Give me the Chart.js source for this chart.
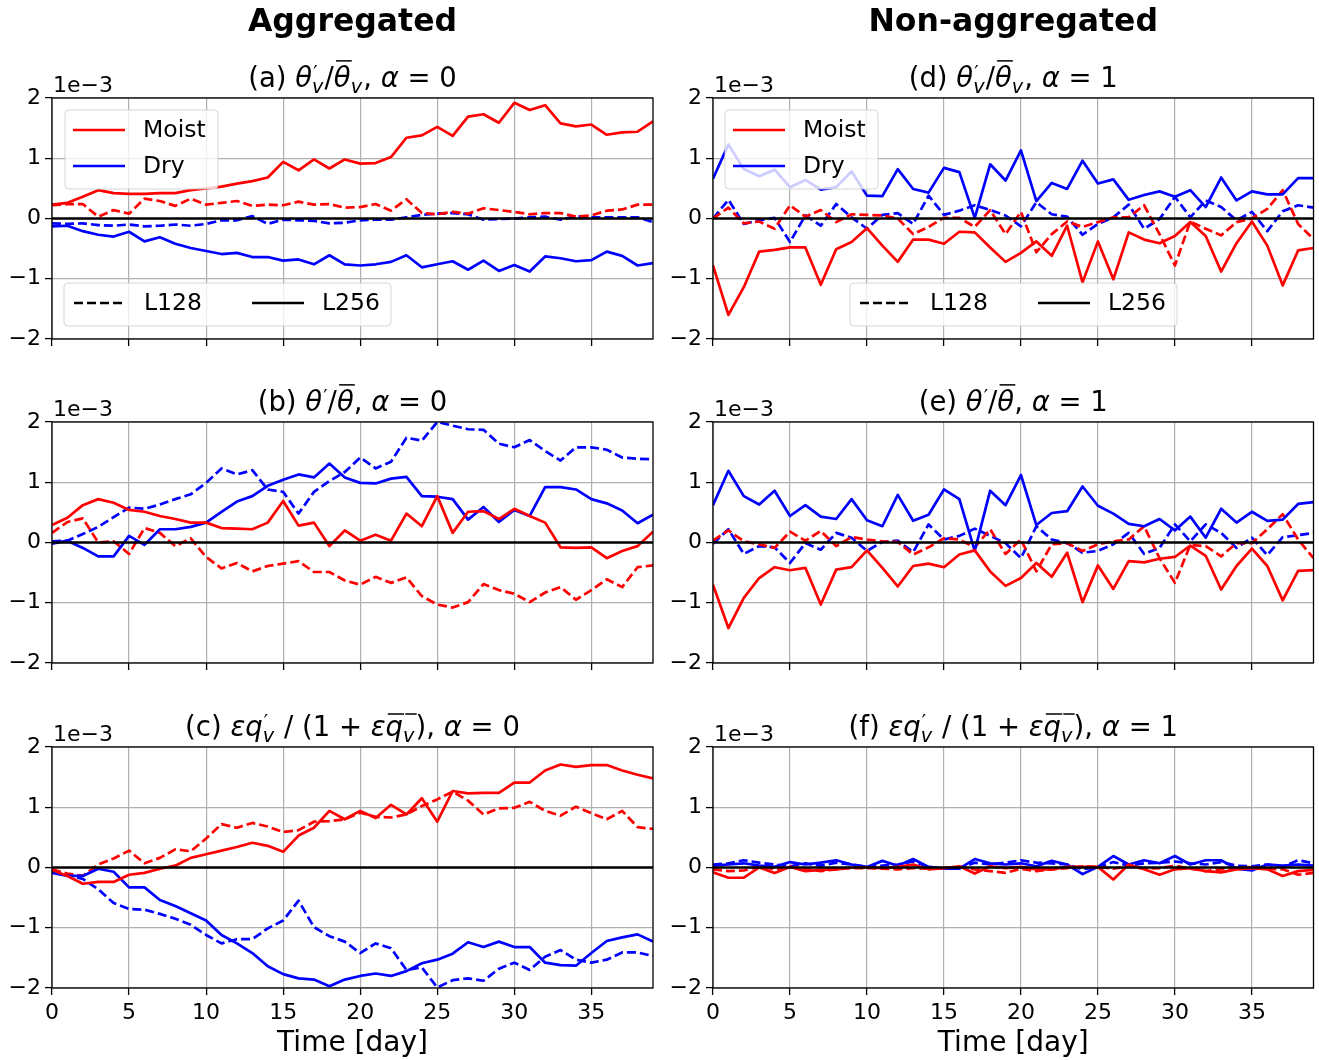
<!DOCTYPE html>
<html>
<head>
<meta charset="utf-8">
<script src="https://cdn.jsdelivr.net/npm/chart.js@4.4.1/dist/chart.umd.min.js"></script>
<style>
  html, body { margin: 0; padding: 0; background: #fff; }
  #fig { position: relative; width: 1319px; height: 1060px; overflow: hidden; }
  #fig canvas { position: absolute; }
</style>
</head>
<body>
<div id="fig"></div>
<script>
// Time axis (days) and tick values
const days = [0,1,2,3,4,5,6,7,8,9,10,11,12,13,14,15,16,17,18,19,20,21,22,23,24,25,26,27,28,29,30,31,32,33,34,35,36,37,38,39];
const xTicks = [0, 5, 10, 15, 20, 25, 30, 35];
const yTicks = [-2, -1, 0, 1, 2];
const zeroLevel = 0;

// All series in units of 1e-3
// (a) theta_v'/theta_v, aggregated
const aMoist256 = [0.23,0.26,0.36,0.47,0.42,0.41,0.41,0.42,0.42,0.47,0.50,0.53,0.58,0.62,0.68,0.94,0.80,0.98,0.83,0.98,0.91,0.92,1.02,1.34,1.38,1.52,1.37,1.69,1.73,1.59,1.92,1.80,1.88,1.58,1.53,1.56,1.39,1.43,1.44,1.61];
const aMoist128 = [0.22,0.24,0.24,0.03,0.14,0.08,0.33,0.29,0.21,0.33,0.23,0.26,0.29,0.21,0.23,0.22,0.28,0.23,0.24,0.18,0.19,0.24,0.13,0.32,0.09,0.07,0.11,0.08,0.17,0.14,0.11,0.07,0.09,0.09,0.03,0.05,0.13,0.15,0.23,0.23];
const aDry256 = [-0.13,-0.12,-0.21,-0.27,-0.30,-0.22,-0.38,-0.31,-0.42,-0.49,-0.54,-0.59,-0.57,-0.64,-0.64,-0.70,-0.68,-0.76,-0.61,-0.76,-0.78,-0.76,-0.72,-0.61,-0.81,-0.76,-0.71,-0.85,-0.70,-0.87,-0.77,-0.88,-0.63,-0.66,-0.71,-0.69,-0.55,-0.62,-0.78,-0.74];
const aDry128 = [-0.08,-0.09,-0.08,-0.11,-0.12,-0.10,-0.13,-0.12,-0.10,-0.12,-0.09,-0.03,-0.03,0.04,-0.09,-0.02,-0.03,-0.04,-0.08,-0.07,-0.03,-0.02,-0.02,0.02,0.06,0.08,0.09,0.07,-0.02,-0.01,0.00,0.02,0.03,-0.02,0.04,0.02,0.02,0.02,0.02,-0.06];

// (b) theta'/theta, aggregated
const bMoist256 = [0.29,0.41,0.62,0.72,0.66,0.54,0.51,0.44,0.39,0.33,0.33,0.24,0.23,0.22,0.33,0.69,0.28,0.33,-0.06,0.20,0.03,0.13,0.03,0.48,0.27,0.77,0.16,0.51,0.52,0.39,0.56,0.44,0.33,-0.08,-0.09,-0.08,-0.26,-0.14,-0.06,0.18];
const bMoist128 = [0.16,0.34,0.40,0.00,0.02,-0.19,0.24,0.16,-0.06,0.07,-0.24,-0.43,-0.34,-0.48,-0.39,-0.35,-0.31,-0.49,-0.49,-0.63,-0.70,-0.57,-0.67,-0.58,-0.89,-1.03,-1.08,-0.99,-0.69,-0.79,-0.85,-0.99,-0.83,-0.74,-0.95,-0.79,-0.61,-0.74,-0.41,-0.38];
const bDry256 = [-0.02,0.03,-0.09,-0.23,-0.23,0.11,-0.04,0.22,0.22,0.26,0.33,0.51,0.68,0.77,0.94,1.04,1.13,1.08,1.31,1.08,0.99,0.98,1.06,1.09,0.77,0.76,0.72,0.38,0.59,0.34,0.54,0.44,0.92,0.92,0.88,0.72,0.65,0.53,0.32,0.46];
const bDry128 = [0.02,0.03,0.14,0.26,0.42,0.58,0.56,0.63,0.72,0.80,0.99,1.23,1.13,1.20,0.88,0.84,0.48,0.84,1.02,1.17,1.41,1.23,1.34,1.74,1.69,2.00,1.94,1.88,1.87,1.64,1.58,1.70,1.52,1.36,1.58,1.58,1.54,1.41,1.39,1.38];

// (c) eps*qv'/(1+eps*qv), aggregated
const cMoist256 = [-0.04,-0.14,-0.27,-0.24,-0.24,-0.12,-0.09,-0.02,0.03,0.16,0.22,0.28,0.34,0.41,0.36,0.26,0.53,0.66,0.94,0.80,0.94,0.82,1.04,0.88,1.15,0.76,1.27,1.23,1.24,1.24,1.41,1.41,1.61,1.71,1.67,1.70,1.70,1.61,1.54,1.48];
const cMoist128 = [-0.03,-0.10,-0.14,0.05,0.15,0.28,0.07,0.16,0.30,0.27,0.48,0.72,0.66,0.74,0.68,0.59,0.62,0.76,0.77,0.80,0.91,0.84,0.83,0.88,1.02,1.13,1.26,1.11,0.88,0.98,0.99,1.09,0.94,0.86,1.01,0.90,0.80,0.94,0.67,0.64];
const cDry256 = [-0.09,-0.14,-0.14,-0.02,-0.07,-0.33,-0.33,-0.54,-0.64,-0.76,-0.88,-1.12,-1.26,-1.42,-1.64,-1.77,-1.84,-1.86,-1.97,-1.86,-1.80,-1.76,-1.80,-1.72,-1.59,-1.53,-1.43,-1.24,-1.32,-1.23,-1.32,-1.32,-1.58,-1.62,-1.63,-1.42,-1.22,-1.16,-1.11,-1.23];
const cDry128 = [-0.05,-0.12,-0.19,-0.36,-0.59,-0.69,-0.70,-0.77,-0.85,-0.95,-1.12,-1.26,-1.19,-1.19,-1.01,-0.88,-0.55,-0.99,-1.14,-1.23,-1.42,-1.26,-1.34,-1.70,-1.66,-1.99,-1.87,-1.84,-1.88,-1.68,-1.58,-1.70,-1.48,-1.37,-1.53,-1.58,-1.53,-1.41,-1.41,-1.47];

// (d) theta_v'/theta_v, non-aggregated
const dMoist256 = [-0.78,-1.60,-1.14,-0.55,-0.52,-0.48,-0.48,-1.10,-0.51,-0.39,-0.16,-0.45,-0.72,-0.35,-0.35,-0.42,-0.22,-0.23,-0.48,-0.72,-0.57,-0.38,-0.62,-0.12,-1.06,-0.38,-1.01,-0.23,-0.35,-0.41,-0.29,-0.06,-0.29,-0.88,-0.41,-0.05,-0.45,-1.11,-0.53,-0.49];
const dMoist128 = [0.00,0.18,-0.08,-0.05,-0.17,0.22,0.03,0.14,-0.06,0.07,0.06,0.05,0.00,-0.26,-0.14,0.01,0.01,-0.14,0.14,-0.26,0.11,-0.56,-0.26,-0.05,-0.14,-0.06,0.02,0.02,0.22,-0.26,-0.78,-0.05,-0.17,-0.28,-0.06,0.00,0.16,0.47,-0.09,-0.34];
const dDry256 = [0.66,1.23,0.82,0.70,0.81,0.52,0.64,0.48,0.52,0.78,0.38,0.37,0.82,0.49,0.43,0.84,0.77,0.01,0.90,0.63,1.13,0.29,0.59,0.49,0.96,0.58,0.65,0.31,0.39,0.45,0.36,0.47,0.19,0.68,0.30,0.45,0.40,0.40,0.67,0.67];
const dDry128 = [0.00,0.31,-0.09,-0.03,0.01,-0.39,0.05,-0.12,0.24,0.02,-0.17,0.06,0.09,-0.09,0.38,0.06,0.13,0.22,0.14,0.05,-0.13,0.27,0.07,0.03,-0.27,-0.09,0.02,0.23,-0.17,-0.01,0.36,0.02,0.30,0.19,-0.03,0.11,-0.21,0.12,0.22,0.18];

// (e) theta'/theta, non-aggregated
const eMoist256 = [-0.70,-1.42,-0.92,-0.59,-0.41,-0.46,-0.42,-1.03,-0.45,-0.41,-0.13,-0.42,-0.73,-0.39,-0.35,-0.41,-0.20,-0.13,-0.48,-0.72,-0.59,-0.34,-0.57,-0.17,-0.99,-0.38,-0.77,-0.31,-0.33,-0.27,-0.24,-0.05,-0.22,-0.78,-0.39,-0.10,-0.39,-0.96,-0.47,-0.46];
const eMoist128 = [0.03,0.20,0.02,-0.03,-0.09,0.18,0.03,0.19,-0.06,0.09,0.05,0.02,0.01,-0.20,-0.08,0.07,0.05,-0.08,0.22,-0.19,0.05,-0.48,-0.03,-0.01,-0.14,-0.03,0.02,0.05,0.27,-0.26,-0.67,-0.04,-0.06,-0.23,-0.01,-0.01,0.22,0.47,0.05,-0.26];
const eDry256 = [0.62,1.19,0.77,0.63,0.86,0.44,0.62,0.43,0.39,0.72,0.37,0.27,0.79,0.36,0.46,0.88,0.72,-0.14,0.86,0.62,1.12,0.29,0.49,0.52,0.93,0.61,0.48,0.31,0.27,0.39,0.20,0.43,0.08,0.56,0.33,0.51,0.36,0.38,0.64,0.67];
const eDry128 = [-0.02,0.22,-0.19,-0.06,-0.08,-0.34,-0.01,-0.12,0.16,0.08,-0.14,0.01,0.03,-0.16,0.30,0.05,0.11,0.23,0.11,-0.01,-0.26,0.27,0.05,-0.01,-0.17,-0.14,-0.03,0.16,-0.19,-0.09,0.30,0.02,0.30,0.16,-0.09,0.08,-0.21,0.09,0.12,0.16];

// (f) eps*qv'/(1+eps*qv), non-aggregated
const fMoist256 = [-0.08,-0.17,-0.17,0.00,-0.09,0.01,-0.06,-0.04,-0.03,0.00,0.00,-0.01,0.01,0.05,-0.03,-0.01,0.02,-0.10,0.02,-0.01,0.01,-0.03,-0.03,0.01,0.01,0.01,-0.20,0.05,-0.03,-0.12,-0.03,-0.01,-0.06,-0.08,-0.03,-0.01,-0.03,-0.14,-0.06,-0.04];
const fMoist128 = [-0.03,-0.06,-0.05,0.02,-0.03,0.01,-0.03,-0.06,-0.03,-0.01,-0.01,-0.02,-0.03,-0.01,-0.02,-0.01,0.01,-0.03,-0.06,-0.09,-0.02,-0.06,-0.03,-0.01,0.02,0.01,-0.02,0.02,-0.02,-0.01,0.03,-0.02,-0.06,-0.03,-0.01,0.01,-0.02,-0.03,-0.12,-0.09];
const fDry256 = [0.03,0.05,0.07,0.03,0.01,0.09,0.05,0.08,0.12,0.05,0.01,0.11,0.03,0.14,0.01,-0.02,-0.02,0.14,0.07,0.05,0.07,0.02,0.11,0.05,-0.11,0.01,0.19,0.05,0.12,0.07,0.19,0.05,0.12,0.12,-0.02,-0.05,0.05,0.03,0.05,0.03];
const fDry128 = [0.05,0.07,0.12,0.08,0.05,0.02,0.07,0.03,0.08,0.05,0.01,0.03,0.05,0.10,0.01,-0.02,-0.01,0.08,0.05,0.08,0.12,0.08,0.07,0.05,-0.03,0.01,0.09,0.03,0.07,0.08,0.10,0.07,0.05,0.09,0.03,0.02,0.05,0.01,0.12,0.07];

const FONT = '"DejaVu Sans", sans-serif';
const RED = '#ff0000';
const BLUE = '#0000ff';
const DASH = [9, 4];
const LW = 2.7;
const TICK_SIZE = 22;
const TITLE_SIZE = 27.5;

// Subplot titles as rich-text pieces: t = text, i = italic, bar = overline height (em),
// sup/sub = stacked script pair
function thetaV(tag, alpha) {
  return [{t: '(' + tag + ') '}, {t: 'θ', i: 1}, {sup: '′', sub: 'v'}, {t: '/'}, {t: 'θ', i: 1, bar: 0.95},
          {sub: 'v'}, {t: ', '}, {t: 'α', i: 1}, {t: ' = ' + alpha}];
}
function theta(tag, alpha) {
  return [{t: '(' + tag + ') '}, {t: 'θ', i: 1}, {sup: '′'}, {t: '/'}, {t: 'θ', i: 1, bar: 0.95},
          {t: ', '}, {t: 'α', i: 1}, {t: ' = ' + alpha}];
}
function moisture(tag, alpha) {
  return [{t: '(' + tag + ') '}, {t: 'ε', i: 1}, {t: 'q', i: 1}, {sup: '′', sub: 'v'}, {t: ' / (1 + '},
          {t: 'ε', i: 1}, {t: 'q', i: 1, bar: 0.8}, {sub: 'v', bar: 0.8}, {t: '), '}, {t: 'α', i: 1}, {t: ' = ' + alpha}];
}

const columns = [
  {left: 0, width: 660, yAxisW: 52, padRight: 7},
  {left: 660, width: 659, yAxisW: 53, padRight: 5.5}
];
const rows = [
  {top: 0, height: 370, padTop: 98, xAxisH: 31},
  {top: 370, height: 325, padTop: 52, xAxisH: 32},
  {top: 695, height: 365, padTop: 52, xAxisH: 72}
];

const panels = [
  {col: 0, row: 0, title: thetaV('a', 0), header: 'Aggregated', series: [aMoist256, aDry256, aMoist128, aDry128], legendTop: 13, legendBottom: 12},
  {col: 0, row: 1, title: theta('b', 0), series: [bMoist256, bDry256, bMoist128, bDry128]},
  {col: 0, row: 2, title: moisture('c', 0), series: [cMoist256, cDry256, cMoist128, cDry128], xlabel: 'Time [day]'},
  {col: 1, row: 0, title: thetaV('d', 1), header: 'Non-aggregated', series: [dMoist256, dDry256, dMoist128, dDry128], legendTop: 12, legendBottom: 137},
  {col: 1, row: 1, title: theta('e', 1), series: [eMoist256, eDry256, eMoist128, eDry128]},
  {col: 1, row: 2, title: moisture('f', 1), series: [fMoist256, fDry256, fMoist128, fDry128], xlabel: 'Time [day]'}
];

function drawRich(ctx, parts, cx, y, size) {
  const s = size * 0.7;
  const items = parts.map(p => {
    if (p.t !== undefined) {
      ctx.font = (p.i ? 'italic ' : '') + size + 'px ' + FONT;
      return {p, w: ctx.measureText(p.t).width};
    }
    ctx.font = 'italic ' + s + 'px ' + FONT;
    const wSub = p.sub ? ctx.measureText(p.sub).width : 0;
    ctx.font = s + 'px ' + FONT;
    const wSup = p.sup ? ctx.measureText(p.sup).width : 0;
    return {p, w: Math.max(wSub, wSup) + size * 0.04};
  });
  const total = items.reduce((acc, it) => acc + it.w, 0);
  let x = cx - total / 2;
  ctx.save();
  ctx.fillStyle = '#000';
  ctx.strokeStyle = '#000';
  ctx.textAlign = 'left';
  ctx.textBaseline = 'alphabetic';
  items.forEach(({p, w}) => {
    if (p.t !== undefined) {
      ctx.font = (p.i ? 'italic ' : '') + size + 'px ' + FONT;
      ctx.fillText(p.t, x, y);
    } else {
      if (p.sup) {
        ctx.font = s + 'px ' + FONT;
        ctx.fillText(p.sup, x + size * 0.04, y - size * 0.3);
      }
      if (p.sub) {
        ctx.font = 'italic ' + s + 'px ' + FONT;
        ctx.fillText(p.sub, x, y + size * 0.2);
      }
    }
    if (p.bar) {
      ctx.lineWidth = size * 0.055;
      ctx.beginPath();
      ctx.moveTo(x + size * 0.08, y - size * p.bar);
      ctx.lineTo(x + w + size * 0.04, y - size * p.bar);
      ctx.stroke();
    }
    x += w;
  });
  ctx.restore();
}

function legendFrame(ctx, x, y, w, h) {
  ctx.save();
  ctx.beginPath();
  ctx.roundRect(x, y, w, h, 4);
  ctx.fillStyle = 'rgba(255,255,255,0.8)';
  ctx.fill();
  ctx.strokeStyle = 'rgba(204,204,204,0.8)';
  ctx.lineWidth = 1;
  ctx.stroke();
  ctx.restore();
}

function legendEntry(ctx, x, y, color, dashed, label) {
  ctx.save();
  ctx.strokeStyle = color;
  ctx.lineWidth = LW;
  ctx.setLineDash(dashed ? DASH : []);
  ctx.beginPath();
  ctx.moveTo(x, y);
  ctx.lineTo(x + 52, y);
  ctx.stroke();
  ctx.setLineDash([]);
  ctx.fillStyle = '#000';
  ctx.font = '23.5px ' + FONT;
  ctx.textAlign = 'left';
  ctx.textBaseline = 'middle';
  ctx.fillText(label, x + 70, y + 1);
  ctx.restore();
}

// Frame, titles, offset label and in-axes legends
const panelDecor = {
  id: 'panelDecor',
  afterDraw(chart, args, opts) {
    const ctx = chart.ctx;
    const a = chart.chartArea;
    const cx = (a.left + a.right) / 2;

    ctx.save();
    ctx.strokeStyle = '#000';
    ctx.lineWidth = 1.3;
    ctx.strokeRect(a.left, a.top, a.right - a.left, a.bottom - a.top);

    ctx.fillStyle = '#000';
    ctx.font = TICK_SIZE + 'px ' + FONT;
    ctx.textAlign = 'left';
    ctx.textBaseline = 'alphabetic';
    ctx.fillText('1e\u22123', a.left + 1, a.top - 6);

    if (opts.header) {
      ctx.font = 'bold 31.5px ' + FONT;
      ctx.textAlign = 'center';
      ctx.fillText(opts.header, cx, 31);
    }
    if (opts.xlabel) {
      ctx.font = '28px ' + FONT;
      ctx.textAlign = 'center';
      ctx.fillText(opts.xlabel, cx, a.bottom + 63);
    }
    ctx.restore();

    drawRich(ctx, opts.title, cx, a.top - 11, TITLE_SIZE);

    if (opts.legendTop !== undefined) {
      const x = a.left + opts.legendTop, y = a.top + 12;
      legendFrame(ctx, x, y, 153, 79);
      legendEntry(ctx, x + 8, y + 20, RED, false, 'Moist');
      legendEntry(ctx, x + 8, y + 56, BLUE, false, 'Dry');
    }
    if (opts.legendBottom !== undefined) {
      const x = a.left + opts.legendBottom, y = a.top + 185;
      legendFrame(ctx, x, y, 327, 43);
      legendEntry(ctx, x + 10, y + 20, '#000', true, 'L128');
      legendEntry(ctx, x + 188, y + 20, '#000', false, 'L256');
    }
  }
};

function points(values) {
  return values.map((v, i) => ({x: days[i], y: v}));
}

const fig = document.getElementById('fig');

panels.forEach(p => {
  const col = columns[p.col];
  const row = rows[p.row];
  const canvas = document.createElement('canvas');
  canvas.width = col.width;
  canvas.height = row.height;
  canvas.style.left = col.left + 'px';
  canvas.style.top = row.top + 'px';
  canvas.style.width = col.width + 'px';
  canvas.style.height = row.height + 'px';
  fig.appendChild(canvas);

  const [moist256, dry256, moist128, dry128] = p.series;
  const showX = p.row === 2;

  const gridOpts = {
    color: '#b0b0b0',
    lineWidth: 1.2,
    tickColor: '#000',
    tickLength: 7,
    tickWidth: 1.3
  };

  new Chart(canvas, {
    type: 'line',
    data: {
      datasets: [
        {data: [{x: days[0], y: zeroLevel}, {x: days[days.length - 1], y: zeroLevel}], borderColor: '#000', borderWidth: 2.3},
        {data: points(moist256), borderColor: RED, borderWidth: LW},
        {data: points(dry256), borderColor: BLUE, borderWidth: LW},
        {data: points(moist128), borderColor: RED, borderWidth: LW, borderDash: DASH},
        {data: points(dry128), borderColor: BLUE, borderWidth: LW, borderDash: DASH}
      ]
    },
    options: {
      responsive: false,
      animation: false,
      devicePixelRatio: 1,
      layout: {padding: {top: row.padTop, right: col.padRight, left: 0, bottom: 0}},
      elements: {
        point: {radius: 0},
        line: {tension: 0, borderCapStyle: 'butt', borderJoinStyle: 'round', fill: false}
      },
      plugins: {
        legend: {display: false},
        tooltip: {enabled: false},
        panelDecor: {
          title: p.title,
          header: p.header,
          xlabel: p.xlabel,
          legendTop: p.legendTop,
          legendBottom: p.legendBottom
        }
      },
      scales: {
        x: {
          type: 'linear',
          min: days[0],
          max: days[days.length - 1],
          afterBuildTicks: s => { s.ticks = xTicks.map(v => ({value: v})); },
          afterFit: s => { s.height = row.xAxisH; },
          border: {display: false},
          grid: gridOpts,
          ticks: {
            display: showX,
            autoSkip: false,
            maxRotation: 0,
            padding: 5,
            color: '#000',
            font: {family: FONT, size: TICK_SIZE}
          }
        },
        y: {
          type: 'linear',
          min: yTicks[0],
          max: yTicks[yTicks.length - 1],
          afterBuildTicks: s => { s.ticks = yTicks.map(v => ({value: v})); },
          afterFit: s => { s.width = col.yAxisW; },
          border: {display: false},
          grid: gridOpts,
          ticks: {
            padding: 4,
            color: '#000',
            font: {family: FONT, size: TICK_SIZE},
            callback: v => (v < 0 ? '\u2212' + Math.abs(v) : String(v))
          }
        }
      }
    },
    plugins: [panelDecor]
  });
});
</script>
</body>
</html>
